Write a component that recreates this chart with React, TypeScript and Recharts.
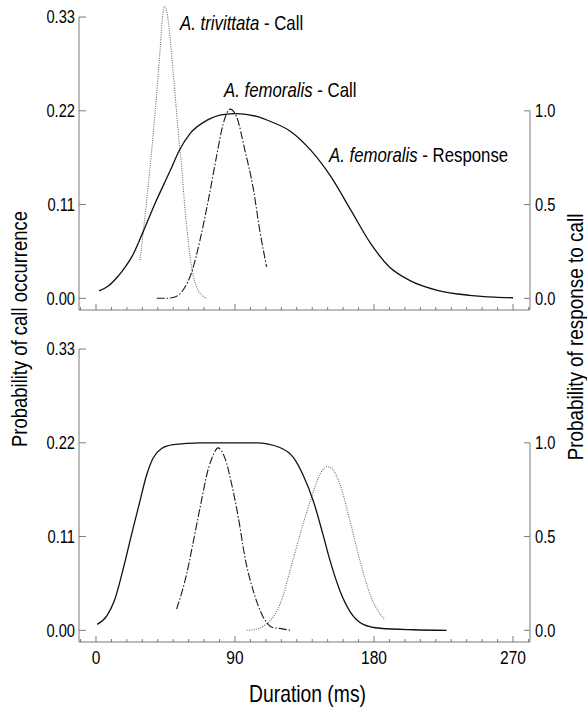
import React from 'react';
import { LineChart, Line, XAxis, YAxis, ReferenceLine } from 'recharts';

const FONT = "'Liberation Sans Narrow', 'Arial Narrow', 'Liberation Sans', Arial, sans-serif";
const AXIS = '#7a7a7a';
const SQ = 0.84; // horizontal squeeze to imitate a narrow face

// x axis ticks (ms)
const xTicks = [-10, 0, 10, 20, 30, 40, 50, 60, 70, 80, 90, 100, 110, 120, 130, 140, 150, 160, 170, 180, 190, 200, 210, 220, 230, 240, 250, 260, 270, 280];
const xLabelTicks = [0, 90, 180, 270];
const leftTicks = [0, 0.11, 0.22, 0.33];
const rightTicks = [0, 0.5, 1.0];

// Top panel
const topTrivittataCall = [
  { t: 28.5, v: 0.045 }, { t: 30.5, v: 0.076 }, { t: 32.8, v: 0.115 }, { t: 35, v: 0.154 },
  { t: 37.1, v: 0.194 }, { t: 39.3, v: 0.24 }, { t: 41.5, v: 0.291 }, { t: 43, v: 0.328 },
  { t: 44.5, v: 0.343 }, { t: 46, v: 0.335 }, { t: 48, v: 0.305 }, { t: 50, v: 0.265 },
  { t: 52, v: 0.222 }, { t: 54, v: 0.18 }, { t: 55.5, v: 0.154 }, { t: 57, v: 0.118 },
  { t: 59, v: 0.08 }, { t: 61, v: 0.048 }, { t: 63, v: 0.026 }, { t: 65.5, v: 0.012 },
  { t: 68.5, v: 0.004 }, { t: 72, v: 0.0 },
];
const topFemoralisCall = [
  { t: 39.3, v: 0.0 }, { t: 45, v: 0.0 }, { t: 50, v: 0.001 }, { t: 56.5, v: 0.01 },
  { t: 62, v: 0.031 }, { t: 67.3, v: 0.068 }, { t: 72.7, v: 0.115 }, { t: 78, v: 0.166 },
  { t: 82.4, v: 0.205 }, { t: 86.8, v: 0.222 }, { t: 91, v: 0.213 }, { t: 96.4, v: 0.174 },
  { t: 102, v: 0.127 }, { t: 106, v: 0.08 }, { t: 110.5, v: 0.037 },
];
const topFemoralisResponse = [
  { t: 2, v: 0.04 }, { t: 8, v: 0.066 }, { t: 14, v: 0.115 }, { t: 19, v: 0.168 },
  { t: 23, v: 0.218 }, { t: 30, v: 0.345 }, { t: 39, v: 0.52 }, { t: 48, v: 0.68 },
  { t: 54, v: 0.79 }, { t: 61, v: 0.88 }, { t: 72, v: 0.95 }, { t: 82, v: 0.98 },
  { t: 91, v: 0.985 }, { t: 104, v: 0.97 }, { t: 113, v: 0.943 }, { t: 126, v: 0.89 },
  { t: 139, v: 0.79 }, { t: 152, v: 0.65 }, { t: 165, v: 0.47 }, { t: 178, v: 0.29 },
  { t: 190, v: 0.167 }, { t: 203, v: 0.096 }, { t: 221, v: 0.043 }, { t: 242, v: 0.016 },
  { t: 258, v: 0.006 }, { t: 270, v: 0.003 },
];

// Bottom panel
const bottomTrivittataCall = [
  { t: 97.6, v: 0.0 }, { t: 103, v: 0.001 }, { t: 108.4, v: 0.005 }, { t: 113, v: 0.012 },
  { t: 117, v: 0.022 }, { t: 121, v: 0.04 }, { t: 125, v: 0.066 }, { t: 129, v: 0.092 },
  { t: 133, v: 0.118 }, { t: 138.6, v: 0.151 }, { t: 144, v: 0.179 }, { t: 149.4, v: 0.192 },
  { t: 152.6, v: 0.19 }, { t: 158, v: 0.171 }, { t: 164.5, v: 0.128 }, { t: 171, v: 0.081 },
  { t: 177.5, v: 0.042 }, { t: 184, v: 0.019 }, { t: 187, v: 0.013 },
];
const bottomFemoralisCall = [
  { t: 52.2, v: 0.025 }, { t: 58.7, v: 0.066 }, { t: 63, v: 0.104 }, { t: 67.4, v: 0.144 },
  { t: 72.8, v: 0.19 }, { t: 76, v: 0.206 }, { t: 79, v: 0.214 }, { t: 83.5, v: 0.202 },
  { t: 87.9, v: 0.171 }, { t: 92.2, v: 0.132 }, { t: 96.5, v: 0.085 }, { t: 101.9, v: 0.046 },
  { t: 108.4, v: 0.015 }, { t: 114.8, v: 0.003 }, { t: 120, v: 0.002 }, { t: 125.6, v: 0.0 },
];
const bottomFemoralisResponse = [
  { t: 0.8, v: 0.032 }, { t: 6.9, v: 0.076 }, { t: 12, v: 0.16 }, { t: 17.7, v: 0.33 },
  { t: 23, v: 0.51 }, { t: 28.5, v: 0.69 }, { t: 32.5, v: 0.82 }, { t: 37.1, v: 0.92 },
  { t: 42.5, v: 0.97 }, { t: 50, v: 0.99 }, { t: 67.4, v: 1.0 }, { t: 104, v: 1.0 },
  { t: 119, v: 0.975 }, { t: 128, v: 0.92 }, { t: 134, v: 0.83 }, { t: 140.7, v: 0.69 },
  { t: 147, v: 0.51 }, { t: 151.6, v: 0.37 }, { t: 158, v: 0.21 }, { t: 164.5, v: 0.1 },
  { t: 173, v: 0.032 }, { t: 184, v: 0.011 }, { t: 205.5, v: 0.003 }, { t: 227, v: 0.0 },
];

const X_DOMAIN: [number, number] = [-11, 281];
const LEFT_DOMAIN: [number, number] = [-0.0137, 0.35];
const RIGHT_DOMAIN: [number, number] = [-0.0137 / 0.22, 0.35 / 0.22];

const NText = ({ x, y, size, anchor = 'start', rotate = 0, children }: any) => (
  <text
    transform={`translate(${x},${y})${rotate ? ` rotate(${rotate})` : ''} scale(${SQ},1)`}
    fontFamily={FONT}
    fontSize={size}
    textAnchor={anchor}
    fill="#000"
  >
    {children}
  </text>
);

const LeftTick = (props: any) => {
  const { x, y, payload } = props;
  const ax = x + 4;
  return (
    <g>
      <line x1={ax} x2={ax + 7} y1={y} y2={y} stroke={AXIS} strokeWidth={1} />
      <NText x={x} y={y + 6.3} size={17.5} anchor="end">
        {Number(payload.value).toFixed(2)}
      </NText>
    </g>
  );
};

const RightTick = (props: any) => {
  const { x, y, payload } = props;
  const ax = x - 5;
  return (
    <g>
      <line x1={ax} x2={ax - 6} y1={y} y2={y} stroke={AXIS} strokeWidth={1} />
      <NText x={x} y={y + 6.3} size={17.5} anchor="start">
        {Number(payload.value).toFixed(1)}
      </NText>
    </g>
  );
};

const makeXTick = (showLabels: boolean) => (props: any) => {
  const { x, y, payload } = props;
  const v = payload.value;
  const major = xLabelTicks.includes(v);
  return (
    <g>
      <line x1={x} x2={x} y1={y} y2={y - (major ? 6 : 3)} stroke={AXIS} strokeWidth={1} />
      {showLabels && major ? (
        <NText x={x} y={y + 22} size={18.5} anchor="middle">
          {v}
        </NText>
      ) : null}
    </g>
  );
};

type Pt = { t: number; v: number };

const Panel = ({ callA, callB, response, showLabels }: { callA: Pt[]; callB: Pt[]; response: Pt[]; showLabels: boolean }) => (
  <LineChart width={587} height={335} margin={{ top: 0, right: 0, bottom: 0, left: 0 }}>
    <XAxis
      type="number"
      dataKey="t"
      domain={X_DOMAIN}
      ticks={xTicks}
      interval={0}
      height={25}
      tickSize={0}
      tickMargin={0}
      tickLine={false}
      axisLine={{ stroke: AXIS, strokeWidth: 1 }}
      tick={makeXTick(showLabels)}
      allowDataOverflow
    />
    <YAxis
      yAxisId="left"
      type="number"
      domain={LEFT_DOMAIN}
      ticks={leftTicks}
      interval={0}
      width={79}
      tickSize={0}
      tickMargin={4}
      tickLine={false}
      axisLine={false}
      tick={LeftTick}
      allowDataOverflow
    />
    <YAxis
      yAxisId="right"
      orientation="right"
      type="number"
      domain={RIGHT_DOMAIN}
      ticks={rightTicks}
      interval={0}
      width={57}
      tickSize={0}
      tickMargin={5}
      tickLine={false}
      axisLine={false}
      tick={RightTick}
      allowDataOverflow
    />
    <ReferenceLine
      yAxisId="left"
      segment={[{ x: X_DOMAIN[0], y: LEFT_DOMAIN[0] }, { x: X_DOMAIN[0], y: 0.33 }]}
      stroke={AXIS}
      strokeWidth={1}
      ifOverflow="visible"
    />
    <ReferenceLine
      yAxisId="right"
      segment={[{ x: X_DOMAIN[1], y: RIGHT_DOMAIN[0] }, { x: X_DOMAIN[1], y: 1.0 }]}
      stroke={AXIS}
      strokeWidth={1}
      ifOverflow="visible"
    />
    <Line
      yAxisId="left"
      data={callA}
      dataKey="v"
      type="monotone"
      stroke="#6a6a6a"
      strokeWidth={1.1}
      strokeDasharray="1 1.3"
      dot={false}
      isAnimationActive={false}
    />
    <Line
      yAxisId="left"
      data={callB}
      dataKey="v"
      type="monotone"
      stroke="#1a1a1a"
      strokeWidth={1.1}
      strokeDasharray="8 2 1.5 2"
      dot={false}
      isAnimationActive={false}
    />
    <Line
      yAxisId="right"
      data={response}
      dataKey="v"
      type="monotone"
      stroke="#111"
      strokeWidth={1.3}
      dot={false}
      isAnimationActive={false}
    />
  </LineChart>
);

export default function App() {
  return (
    <div style={{ position: 'absolute', left: 0, top: 0, width: 587, height: 707, background: '#fff' }}>
      <div style={{ position: 'absolute', left: 0, top: 0 }}>
        <Panel callA={topTrivittataCall} callB={topFemoralisCall} response={topFemoralisResponse} showLabels={false} />
      </div>
      <div style={{ position: 'absolute', left: 0, top: 332 }}>
        <Panel callA={bottomTrivittataCall} callB={bottomFemoralisCall} response={bottomFemoralisResponse} showLabels={true} />
      </div>
      <svg width={587} height={707} style={{ position: 'absolute', left: 0, top: 0, pointerEvents: 'none' }}>
        <NText x={180} y={30} size={20}>
          <tspan fontStyle="italic">A. trivittata</tspan>
          <tspan> - Call</tspan>
        </NText>
        <NText x={224} y={97} size={20}>
          <tspan fontStyle="italic">A. femoralis</tspan>
          <tspan> - Call</tspan>
        </NText>
        <NText x={329} y={162} size={20}>
          <tspan fontStyle="italic">A. femoralis</tspan>
          <tspan> - Response</tspan>
        </NText>
        <NText x={307.5} y={701.5} size={23} anchor="middle">Duration (ms)</NText>
        <NText x={27} y={329} size={22} anchor="middle" rotate={-90}>
          Probability of call occurrence
        </NText>
        <NText x={583} y={337} size={22.5} anchor="middle" rotate={-90}>
          Probability of response to call
        </NText>
      </svg>
    </div>
  );
}
